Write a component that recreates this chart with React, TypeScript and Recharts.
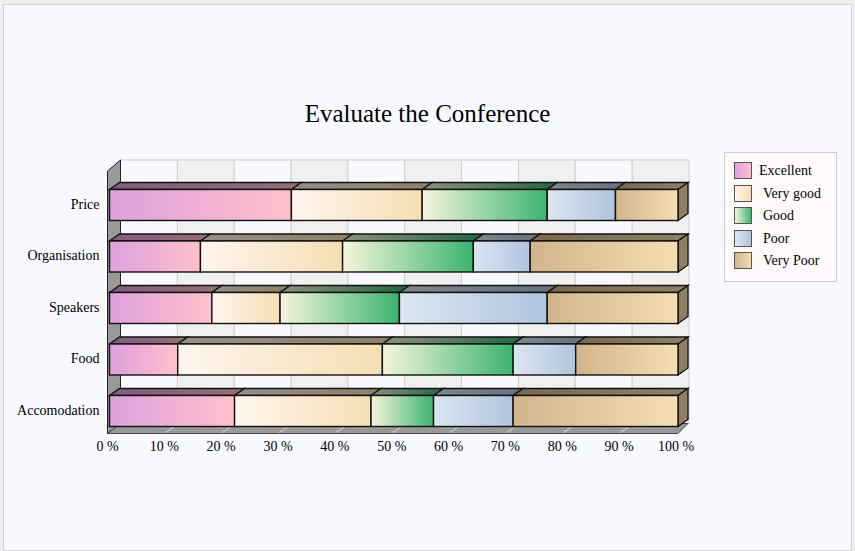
import { Bar, BarChart, Legend, XAxis, YAxis, usePlotArea } from 'recharts';

const categories = ['Price', 'Organisation', 'Speakers', 'Food', 'Accomodation'];
const excellent = [32, 16, 18, 12, 22];
const veryGood = [23, 25, 12, 36, 24];
const good = [22, 23, 21, 23, 11];
const poor = [12, 10, 26, 11, 14];
const veryPoor = [11, 26, 23, 18, 29];
const xTicks = [0, 10, 20, 30, 40, 50, 60, 70, 80, 90, 100];

const FONT = '"Liberation Serif", "Times New Roman", serif';
const DEPTH_X = 10;
const DEPTH_Y = 7;

const series = [
  { key: 'excellent', name: 'Excellent', from: '#dda0dd', to: '#ffc0cb', values: excellent },
  { key: 'veryGood', name: 'Very good', from: '#fff5ee', to: '#f5deb3', values: veryGood },
  { key: 'good', name: 'Good', from: '#f5f5dc', to: '#3cb371', values: good },
  { key: 'poor', name: 'Poor', from: '#dce6f1', to: '#b0c4de', values: poor },
  { key: 'veryPoor', name: 'Very Poor', from: '#d2b48c', to: '#f5deb3', values: veryPoor },
];

const data = categories.map((name, i) => {
  const row: Record<string, string | number> = { name };
  series.forEach((s) => {
    row[s.key] = s.values[i];
  });
  return row;
});

// back wall, left wall and floor of the 3D box, behind the bars
function Walls() {
  const plot = usePlotArea();
  if (!plot) return null;
  const left = plot.x - 2;
  const right = plot.x + plot.width;
  const floor = plot.y + plot.height - 3.5;
  const backLeft = left + 13;
  const backRight = right + DEPTH_X;
  const backTop = 160;
  const backFloor = floor - 10;
  const step = plot.width / 10;

  return (
    <g>
      {xTicks.slice(0, -1).map((t, i) => (
        <rect
          key={t}
          x={backLeft + i * step}
          y={backTop}
          width={step}
          height={backFloor - backTop}
          fill={i % 2 === 0 ? '#f8f9ff' : '#f0f0f0'}
          stroke="#d0d0d0"
          strokeWidth={1}
        />
      ))}
      <polygon
        points={`${left},${backTop + 11} ${backLeft},${backTop} ${backLeft},${backFloor} ${left},${floor}`}
        fill="#999999"
        stroke="#222222"
        strokeWidth={1}
      />
      <polygon
        points={`${left},${floor} ${backLeft},${backFloor} ${backRight},${backFloor} ${right},${floor}`}
        fill="#999999"
        stroke="#444444"
        strokeWidth={1}
      />
      {xTicks.slice(1, -1).map((t, i) => (
        <line
          key={t}
          x1={plot.x + (i + 1) * step - 1}
          y1={floor - 1}
          x2={plot.x + (i + 1) * step + 7}
          y2={floor - 6}
          stroke="#d8d8d8"
          strokeWidth={1}
        />
      ))}
    </g>
  );
}

function segment(id: string, isLast: boolean) {
  return (props: any) => {
    const { x, y, width, height } = props;
    const top = `${x},${y} ${x + DEPTH_X},${y - DEPTH_Y} ${x + width + DEPTH_X},${y - DEPTH_Y} ${x + width},${y}`;
    const side = `${x + width},${y} ${x + width + DEPTH_X},${y - DEPTH_Y} ${x + width + DEPTH_X},${y + height - DEPTH_Y} ${x + width},${y + height}`;
    return (
      <g>
        <polygon points={top} fill={`url(#grad-${id})`} />
        <polygon points={top} fill="#000000" fillOpacity={0.42} stroke="#111111" strokeWidth={1.3} />
        {isLast && <polygon points={side} fill="#8f7e62" stroke="#111111" strokeWidth={1.3} />}
        <rect x={x} y={y} width={width} height={height} fill={`url(#grad-${id})`} stroke="#111111" strokeWidth={1.4} />
      </g>
    );
  };
}

function LegendBox() {
  return (
    <div
      style={{
        position: 'absolute',
        left: 724,
        top: 152,
        width: 111,
        height: 128,
        boxSizing: 'content-box',
        background: '#fffafa',
        border: '1px solid #cccccc',
        fontFamily: FONT,
        fontSize: 14,
        color: '#000',
      }}
    >
      {series.map((s, i) => (
        <div key={s.key} style={{ position: 'absolute', left: 9, top: 9 + i * 22.6, height: 16, whiteSpace: 'nowrap' }}>
          <span
            style={{
              position: 'absolute',
              left: 0,
              top: 0,
              width: 16,
              height: 15,
              border: '1px solid #555555',
              background: `linear-gradient(to right, ${s.from}, ${s.to})`,
            }}
          />
          <span style={{ position: 'absolute', left: i === 0 ? 25 : 29, top: 0, lineHeight: '18px' }}>{s.name}</span>
        </div>
      ))}
    </div>
  );
}

export default function App() {
  return (
    <div style={{ position: 'absolute', left: 0, top: 0, width: 855, height: 551, background: '#efefef', overflow: 'hidden' }}>
      <div
        style={{
          position: 'absolute',
          left: 3,
          top: 4,
          width: 847,
          height: 545,
          background: '#f8f9ff',
          border: '1px solid #d4d4d4',
        }}
      />
      <div style={{ position: 'absolute', left: 0, top: 0 }}>
        <BarChart
          width={855}
          height={551}
          data={data}
          layout="vertical"
          barCategoryGap={0}
          barSize={31}
          margin={{ top: 179.5, right: 177, bottom: 84, left: 9.5 }}
          style={{ fontFamily: FONT }}
        >
          <defs>
            {series.map((s) => (
              <linearGradient key={s.key} id={`grad-${s.key}`} x1="0" y1="0" x2="1" y2="0">
                <stop offset="0%" stopColor={s.from} />
                <stop offset="100%" stopColor={s.to} />
              </linearGradient>
            ))}
          </defs>
          <text x={427.5} y={122} textAnchor="middle" fontSize={25} fill="#000" fontFamily={FONT}>
            Evaluate the Conference
          </text>
          <Walls />
          <XAxis
            type="number"
            domain={[0, 100]}
            ticks={xTicks}
            tickFormatter={(v) => `${v} %`}
            tick={{ fontSize: 14, fill: '#000', dx: -2, dy: -2 }}
            tickLine={false}
            axisLine={false}
            tickMargin={0}
            height={30}
            interval={0}
          />
          <YAxis
            type="category"
            dataKey="name"
            width={100}
            tick={{ fontSize: 14, fill: '#000', dy: -1.5 }}
            tickLine={false}
            axisLine={false}
            tickMargin={4}
            interval={0}
          />
          <Legend content={<LegendBox />} wrapperStyle={{ position: 'absolute', left: 0, top: 0, width: 0, height: 0 }} />
          {series.map((s, i) => (
            <Bar
              key={s.key}
              dataKey={s.key}
              name={s.name}
              stackId="total"
              fill={s.to}
              isAnimationActive={false}
              shape={segment(s.key, i === series.length - 1)}
            />
          ))}
        </BarChart>
      </div>
    </div>
  );
}
